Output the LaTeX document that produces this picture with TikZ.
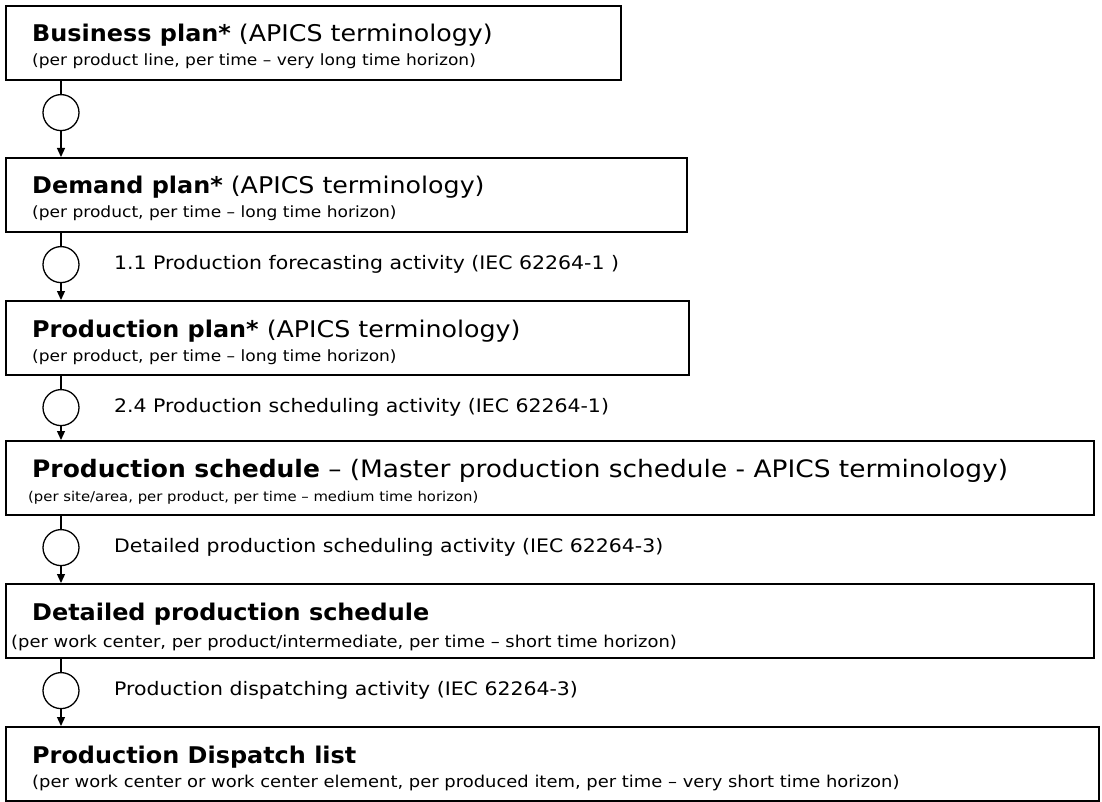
\documentclass[tikz,border=0pt]{standalone}
\usepackage{fontspec}
\setmainfont[FakeStretch=1.1,BoldFeatures={FakeStretch=1.04}]{DejaVu Sans}
\usetikzlibrary{arrows.meta,calc}
\begin{document}
\begin{tikzpicture}[x=1pt,y=-1pt,
  box/.style={draw,line width=1.6pt,rectangle,anchor=north west,inner sep=0pt,minimum height=74pt},
  ttl/.style={anchor=base west,inner sep=0pt,font=\fontsize{23}{26}\selectfont},
  ttlbig/.style={anchor=base west,inner sep=0pt,font=\fontsize{24}{27}\selectfont},
  sub/.style={anchor=base west,inner sep=0pt,font=\fontsize{15.5}{18}\selectfont},
  subsmall/.style={anchor=base west,inner sep=0pt,font=\fontsize{13.5}{16}\selectfont},
  subbig/.style={anchor=base west,inner sep=0pt,font=\fontsize{16.3}{19}\selectfont},
  act/.style={anchor=west,inner sep=0pt,font=\fontsize{18.6}{21}\selectfont},
  gate/.style={draw,circle,line width=1.3pt,minimum size=36pt,inner sep=0pt},
  flow/.style={line width=1.3pt,-{Triangle[length=9pt,width=8pt]}},
  stem/.style={line width=1.3pt}]
\useasboundingbox (0,0) rectangle (1102,802);
% boxes
\node[box,minimum width=615pt] (b1) at (5,5) {};
\node[box,minimum width=681pt] (b2) at (5,157) {};
\node[box,minimum width=683pt] (b3) at (5,300) {};
\node[box,minimum width=1088pt] (b4) at (5,440) {};
\node[box,minimum width=1088pt] (b5) at (5,583) {};
\node[box,minimum width=1093pt,minimum height=74pt] (b6) at (5,726) {};
% texts
\node[ttl] (t1) at ($(b1.north west)+(27,37)$) {\textbf{Business plan*} (APICS terminology)};
\node[sub] (s1) at ($(b1.north west)+(27,61)$) {(per product line, per time – very long time horizon)};
\node[ttl] (t2) at ($(b2.north west)+(27,37)$) {\textbf{Demand plan*} (APICS terminology)};
\node[sub] (s2) at ($(b2.north west)+(27,61)$) {(per product, per time – long time horizon)};
\node[ttl] (t3) at ($(b3.north west)+(27,37)$) {\textbf{Production plan*} (APICS terminology)};
\node[sub] (s3) at ($(b3.north west)+(27,61)$) {(per product, per time – long time horizon)};
\node[ttlbig] (t4) at ($(b4.north west)+(27,37)$) {\textbf{Production schedule} – (Master production schedule - APICS terminology)};
\node[subsmall] (s4) at ($(b4.north west)+(23,61)$) {(per site/area, per product, per time – medium time horizon)};
\node[ttl] (t5) at ($(b5.north west)+(27,37)$) {\textbf{Detailed production schedule}};
\node[subbig] (s5) at ($(b5.north west)+(6,64)$) {(per work center, per product/intermediate, per time – short time horizon)};
\node[ttl] (t6) at ($(b6.north west)+(27,37)$) {\textbf{Production Dispatch list}};
\node[subbig] (s6) at ($(b6.north west)+(27,61)$) {(per work center or work center element, per produced item, per time – very short time horizon)};
% circles
\node[gate] (c1) at ($(b1.south west)+(56,32)$) {};
\node[gate] (c2) at ($(b2.south west)+(56,32)$) {};
\node[gate] (c3) at ($(b3.south west)+(56,32)$) {};
\node[gate] (c4) at ($(b4.south west)+(56,32)$) {};
\node[gate] (c5) at ($(b5.south west)+(56,32)$) {};
% connectors
\draw[stem] (c1.north) -- (c1.north |- b1.south);
\draw[flow] (c1.south) -- (c1.south |- b2.north);
\draw[stem] (c2.north) -- (c2.north |- b2.south);
\draw[flow] (c2.south) -- (c2.south |- b3.north);
\draw[stem] (c3.north) -- (c3.north |- b3.south);
\draw[flow] (c3.south) -- (c3.south |- b4.north);
\draw[stem] (c4.north) -- (c4.north |- b4.south);
\draw[flow] (c4.south) -- (c4.south |- b5.north);
\draw[stem] (c5.north) -- (c5.north |- b5.south);
\draw[flow] (c5.south) -- (c5.south |- b6.north);
% activity labels
\node[act] (a2) at ($(c2.center)+(53,0)$) {1.1 Production forecasting activity (IEC 62264-1 )};
\node[act] (a3) at ($(c3.center)+(53,0)$) {2.4 Production scheduling activity (IEC 62264-1)};
\node[act] (a4) at ($(c4.center)+(53,0)$) {Detailed production scheduling activity (IEC 62264-3)};
\node[act] (a5) at ($(c5.center)+(53,0)$) {Production dispatching activity (IEC 62264-3)};
\end{tikzpicture}
\end{document}
